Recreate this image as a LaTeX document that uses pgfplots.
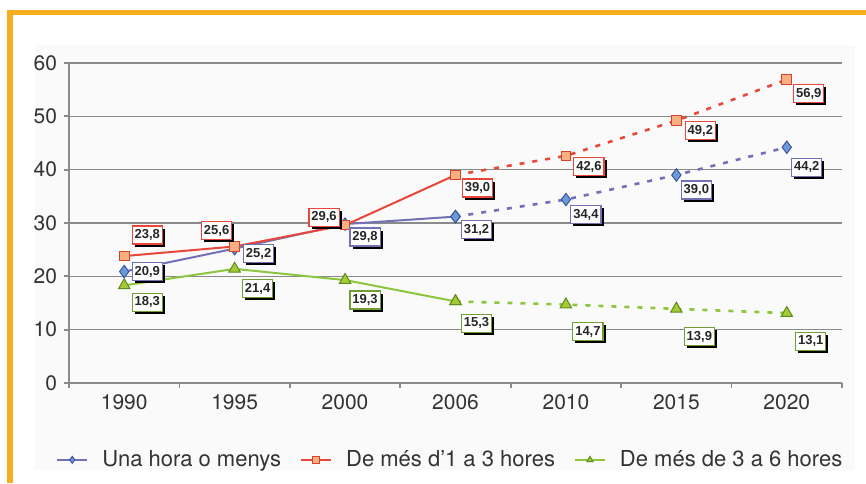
\documentclass[border=0pt]{standalone}
\usepackage{pgfplots}
\pgfplotsset{compat=1.18}
\usepackage{pgfplotstable}
\usepackage{fontspec}
\setmainfont{TeX Gyre Heros}
\newfontfamily\lblfont{Liberation Sans}
\usetikzlibrary{shadows}
\definecolor{orangeframe}{HTML}{F7AE1E}
\definecolor{blueline}{HTML}{7271B5}
\definecolor{bluefill}{HTML}{6A9BD8}
\definecolor{blueedge}{HTML}{3D55A0}
\definecolor{redline}{HTML}{E8473A}
\definecolor{redfill}{HTML}{F9B080}
\definecolor{rededge}{HTML}{D8402E}
\definecolor{greenline}{HTML}{8CC63F}
\definecolor{greenfill}{HTML}{A6C935}
\definecolor{greenedge}{HTML}{5B8C1E}
\definecolor{axgray}{HTML}{8A8A8A}
\definecolor{txt}{HTML}{333333}

\pgfplotstableread{
x y dx dy
0 20.9 11.5 0
1 25.2 12 -2.5
2 29.8 10 -6.5
3 31.2 10.5 -6.5
4 34.4 10 -7.5
5 39.0 10 -7.5
6 44.2 10 -10
}\bluedata
\pgfplotstableread{
x y dx dy
0 23.8 11.5 10.5
1 25.6 -9 8
2 29.6 -10.5 4
3 39.0 11 -6.5
4 42.6 11.5 -5.5
5 49.2 12 -5
6 56.9 11 -7
}\reddata
\pgfplotstableread{
x y dx dy
0 18.3 11.5 -8.5
1 21.4 11.5 -10
2 19.3 10 -10
3 15.3 10.5 -11
4 14.7 11 -13.5
5 13.9 11.5 -14
6 13.1 12 -14
}\greendata

\tikzset{
 lbl/.style={fill=white, line width=0.6pt, inner xsep=1.2pt, inner ysep=0pt,
   minimum height=9pt, font=\fontsize{6.5}{7}\lblfont\bfseries, text=black!85,
   drop shadow={shadow xshift=1.3pt, shadow yshift=-1.3pt, opacity=1, fill=black}},
}

\begin{document}
\begin{tikzpicture}
\useasboundingbox (-34.5pt,-50pt) rectangle (398.5pt,191.5pt);
\fill[black!2] (-17pt,-43.5pt) rectangle (393pt,169pt);
\begin{axis}[
 scale only axis, width=386.5pt, height=160pt,
 xmin=-0.5, xmax=6.5, ymin=0, ymax=60,
 axis x line*=bottom, axis y line*=left,
 xtick={0,...,6}, xticklabels={1990,1995,2000,2006,2010,2015,2020},
 minor xtick={-0.5,0.5,...,6.5},
 ytick={0,10,...,60},
 major x tick style={draw=none},
 tick align=outside, major tick length=2.5pt, minor tick length=2.5pt,
 ymajorgrids, grid style={axgray, line width=0.7pt},
 axis line style={axgray, line width=0.9pt},
 tick style={axgray, line width=0.9pt},
 ticklabel style={font=\fontsize{10.5}{12}\selectfont, text=txt},
 /pgf/number format/assume math mode=true,
 clip=false,
 legend style={at={(-0.017,-0.24)}, anchor=west, draw=none, fill=none,
   font=\fontsize{11}{13}\selectfont, text=txt, inner sep=0pt,
   /tikz/every odd column/.append style={column sep=5pt},
   /tikz/every even column/.append style={column sep=7.5pt}},
 legend columns=-1,
 legend image code/.code={\draw[mark repeat=2,mark phase=2,#1,mark size=1.7pt] plot coordinates {(0pt,0pt) (7.5pt,0pt) (15pt,0pt)};},
]
% blue
\addplot[blueline, line width=1pt, mark=diamond*, mark size=3.1pt,
  mark options={fill=bluefill, draw=blueedge, line width=0.5pt}]
  table[x=x,y=y,restrict x to domain=0:3] {\bluedata};
\addlegendentry{Una hora o menys}
\addplot[blueline, line width=1.3pt, dash pattern=on 2.5pt off 4pt, mark=diamond*, mark size=3.1pt,
  mark options={solid, fill=bluefill, draw=blueedge, line width=0.5pt}, forget plot]
  table[x=x,y=y,restrict x to domain=3:6] {\bluedata};
% red
\addplot[redline, line width=1pt, mark=square*, mark size=2.4pt,
  mark options={fill=redfill, draw=rededge, line width=0.5pt}]
  table[x=x,y=y,restrict x to domain=0:3] {\reddata};
\addlegendentry{De més d’1 a 3 hores}
\addplot[redline, line width=1.3pt, dash pattern=on 2.5pt off 4pt, mark=square*, mark size=2.4pt,
  mark options={solid, fill=redfill, draw=rededge, line width=0.5pt}, forget plot]
  table[x=x,y=y,restrict x to domain=3:6] {\reddata};
% green
\addplot[greenline, line width=1pt, mark=triangle*, mark size=3.3pt,
  mark options={fill=greenfill, draw=greenedge, line width=0.5pt}]
  table[x=x,y=y,restrict x to domain=0:3] {\greendata};
\addlegendentry{De més de 3 a 6 hores}
\addplot[greenline, line width=1.3pt, dash pattern=on 2.5pt off 4pt, mark=triangle*, mark size=3.3pt,
  mark options={solid, fill=greenfill, draw=greenedge, line width=0.5pt}, forget plot]
  table[x=x,y=y,restrict x to domain=3:6] {\greendata};
% labels
\addplot[draw=none, mark=none, forget plot, point meta=explicit,
  visualization depends on={\thisrow{dx}\as\dx},
  visualization depends on={\thisrow{dy}\as\dy},
  nodes near coords={\pgfmathprintnumber[fixed,fixed zerofill,precision=1,use comma]{\pgfplotspointmeta}},
  nodes near coords style={lbl, draw=blueline, anchor=center, xshift=\dx pt, yshift=\dy pt}]
  table[x=x,y=y,meta=y] {\bluedata};
\addplot[draw=none, mark=none, forget plot, point meta=explicit,
  visualization depends on={\thisrow{dx}\as\dx},
  visualization depends on={\thisrow{dy}\as\dy},
  nodes near coords={\pgfmathprintnumber[fixed,fixed zerofill,precision=1,use comma]{\pgfplotspointmeta}},
  nodes near coords style={lbl, draw=redline, anchor=center, xshift=\dx pt, yshift=\dy pt}]
  table[x=x,y=y,meta=y] {\reddata};
\addplot[draw=none, mark=none, forget plot, point meta=explicit,
  visualization depends on={\thisrow{dx}\as\dx},
  visualization depends on={\thisrow{dy}\as\dy},
  nodes near coords={\pgfmathprintnumber[fixed,fixed zerofill,precision=1,use comma]{\pgfplotspointmeta}},
  nodes near coords style={lbl, draw=greenline!80!black, anchor=center, xshift=\dx pt, yshift=\dy pt}]
  table[x=x,y=y,meta=y] {\greendata};
\end{axis}
\draw[orangeframe, line width=2.6pt] (-29.5pt,-50pt) -- (-29.5pt,185.25pt) -- (398.5pt,185.25pt);
\end{tikzpicture}
\end{document}
